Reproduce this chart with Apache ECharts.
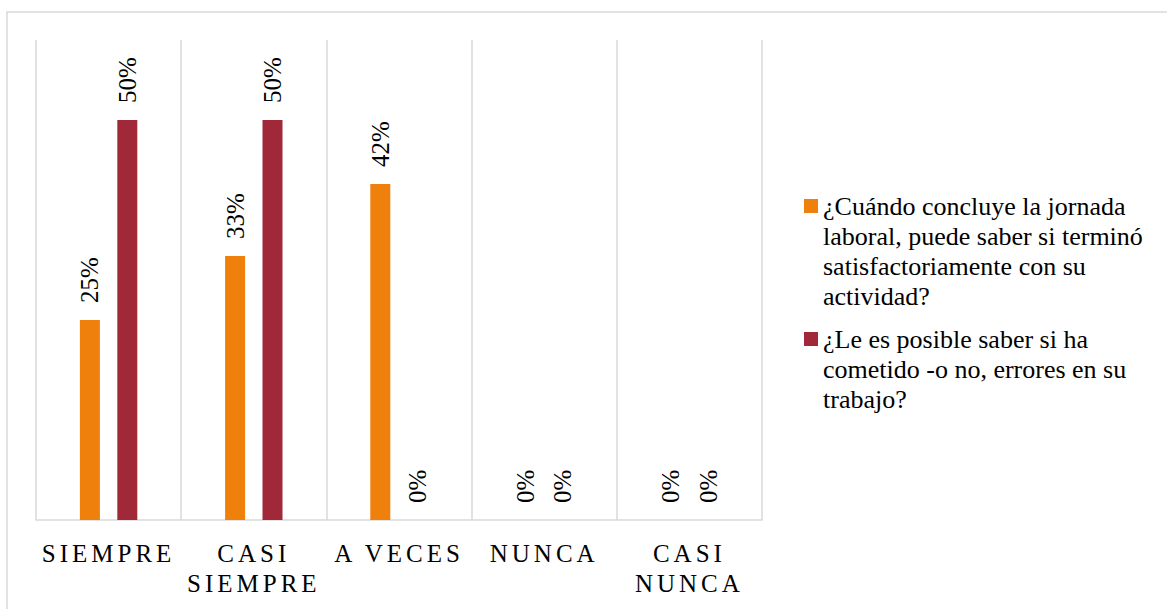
<!DOCTYPE html>
<html>
<head>
<meta charset="utf-8">
<script src="https://cdn.jsdelivr.net/npm/echarts@6/dist/echarts.min.js"></script>
<style>
  html, body { margin: 0; padding: 0; background: #ffffff; }
  #chart { width: 1167px; height: 609px; }
  #chart text { font-family: 'Liberation Serif', 'Times New Roman', serif !important; }
  /* category labels are set in spaced capitals */
  #chart text[fill="#010101"] { letter-spacing: 4px; }
</style>
</head>
<body>
<div id="chart"></div>
<script>
const categories = ['SIEMPRE', 'CASI\nSIEMPRE', 'A VECES', 'NUNCA', 'CASI\nNUNCA'];
const seriesNames = [
  '¿Cuándo concluye la jornada laboral, puede saber si terminó satisfactoriamente con su actividad?',
  '¿Le es posible saber si ha cometido -o no, errores en su trabajo?'
];
const legendLines = [
  ['¿Cuándo concluye la jornada', 'laboral, puede saber si terminó', 'satisfactoriamente con su', 'actividad?'],
  ['¿Le es posible saber si ha', 'cometido -o no, errores en su', 'trabajo?']
];
const valuesJornada = [25, 33, 42, 0, 0];
const valuesErrores = [50, 50, 0, 0, 0];

const FONT = 'Liberation Serif';
const COLORS = ['#F0800C', '#A12838'];
const LINE_H = 30;

const chart = echarts.init(document.getElementById('chart'), null, { renderer: 'svg' });

// Legend text is centred on its swatch, so blank lines are put in front of
// the block to keep the swatch level with the first line.
function legendFor(i, top) {
  const lines = legendLines[i];
  const lead = new Array(lines.length - 1).fill('');
  return {
    data: [seriesNames[i]],
    orient: 'vertical',
    left: 804,
    top: top,
    padding: 0,
    itemWidth: 14,
    itemHeight: 14,
    icon: 'rect',
    selectedMode: false,
    formatter: () => lead.concat(lines).join('\n'),
    textStyle: {
      fontFamily: FONT,
      fontSize: 26,
      lineHeight: LINE_H,
      color: '#000000'
    }
  };
}

const labelStyle = {
  show: true,
  position: 'top',
  distance: 17,
  rotate: 90,
  align: 'left',
  verticalAlign: 'middle',
  formatter: '{c}%',
  fontFamily: FONT,
  fontSize: 25,
  color: '#000000'
};

chart.setOption({
  animation: false,
  backgroundColor: '#ffffff',
  textStyle: { fontFamily: FONT },
  grid: { left: 36, right: 405, top: 40, bottom: 89 },
  graphic: [{
    type: 'rect',
    shape: { x: 7, y: 12, width: 1200, height: 700 },
    style: { fill: 'none', stroke: '#d9d9d9', lineWidth: 1.5 },
    silent: true
  }],
  legend: [legendFor(0, 101), legendFor(1, 264)],
  xAxis: {
    type: 'category',
    data: categories,
    axisLine: { show: true, lineStyle: { color: '#d9d9d9', width: 1.5 } },
    axisTick: { show: false },
    splitLine: { show: true, lineStyle: { color: '#d9d9d9', width: 1.5 } },
    axisLabel: {
      fontFamily: FONT,
      fontSize: 25,
      lineHeight: LINE_H,
      color: '#010101',
      margin: 18,
      interval: 0
    }
  },
  yAxis: {
    type: 'value',
    min: 0,
    max: 60,
    show: false
  },
  series: [
    {
      name: seriesNames[0],
      type: 'bar',
      data: valuesJornada,
      barWidth: 20,
      barGap: '87%',
      itemStyle: { color: COLORS[0] },
      label: labelStyle
    },
    {
      name: seriesNames[1],
      type: 'bar',
      data: valuesErrores,
      barWidth: 20,
      barGap: '87%',
      itemStyle: { color: COLORS[1] },
      label: labelStyle
    }
  ]
});
</script>
</body>
</html>
